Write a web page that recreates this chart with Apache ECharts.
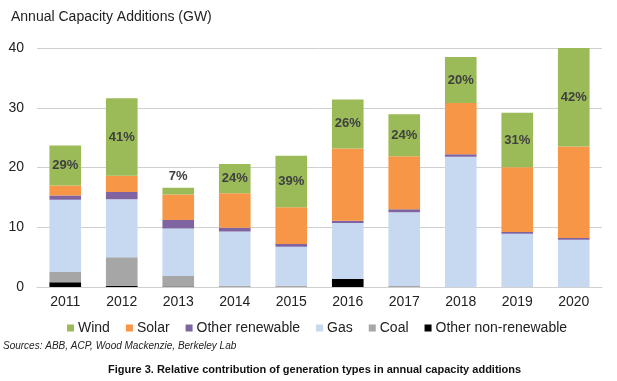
<!DOCTYPE html>
<html><head><meta charset="utf-8">
<script src="https://cdn.jsdelivr.net/npm/echarts@6/dist/echarts.min.js"></script>
<style>html,body{margin:0;padding:0;background:#fff}#c{width:617px;height:381px}</style>
</head><body><div id="c"></div>
<script>
const years = ['2011','2012','2013','2014','2015','2016','2017','2018','2019','2020'];
const otherNonRenewable = [0.8, 0.2, 0.1, 0, 0, 1.35, 0, 0, 0, 0];
const coal = [1.7, 4.8, 1.75, 0.2, 0.2, 0, 0.15, 0, 0, 0];
const gas = [12.1, 9.7, 7.95, 9.1, 6.55, 9.35, 12.35, 21.8, 8.9, 7.9];
const otherRenewable = [0.7, 1.2, 1.4, 0.6, 0.45, 0.4, 0.5, 0.4, 0.3, 0.3];
const solar = [1.7, 2.7, 4.3, 5.8, 6.15, 12.1, 8.9, 8.6, 10.85, 15.3];
const wind = [6.7, 13.0, 1.1, 4.9, 8.6, 8.2, 7.0, 7.7, 9.1, 16.8];
const windShare = ['29%','41%','7%','24%','39%','26%','24%','20%','31%','42%'];
const yTicks = [0, 10, 20, 30, 40];

const FONT = '"Liberation Sans", Arial, sans-serif';
const colors = {
  'Wind': '#9BBB59', 'Solar': '#F79646', 'Other renewable': '#8064A2',
  'Gas': '#C6D9F1', 'Coal': '#A6A6A6', 'Other non-renewable': '#000000'
};
function bar(name, data, extra) {
  return Object.assign({
    name, type: 'bar', stack: 'total', data, barWidth: '56%',
    itemStyle: { color: colors[name] }, emphasis: { disabled: true }
  }, extra || {});
}
const windData = wind.map((v, i) => i === 2 ? { value: v, label: { position: 'top' } } : v);

const chart = echarts.init(document.getElementById('c'), null, { renderer: 'canvas' });
chart.setOption({
  animation: false,
  textStyle: { fontFamily: FONT },
  title: [
    { text: 'Annual Capacity Additions (GW)', left: 11, top: 10, padding: 0,
      textStyle: { fontFamily: FONT, fontSize: 14, fontWeight: 'normal', color: '#222' } },
    { text: 'Sources: ABB, ACP, Wood Mackenzie, Berkeley Lab', left: 3, top: 341, padding: 0,
      textStyle: { fontFamily: FONT, fontSize: 10, fontStyle: 'italic', fontWeight: 'normal', color: '#222' } },
    { text: 'Figure 3. Relative contribution of generation types in annual capacity additions', left: 108, top: 364, padding: 0,
      textStyle: { fontFamily: FONT, fontSize: 11, fontWeight: 'bold', color: '#111' } }
  ],
  legend: {
    data: ['Wind', 'Solar', 'Other renewable', 'Gas', 'Coal', 'Other non-renewable'],
    left: 62, top: 316, itemWidth: 7, itemHeight: 7, itemGap: 16,
    icon: 'rect',
    textStyle: { fontFamily: FONT, fontSize: 14, color: '#222', padding: [0, 0, 0, -1] }
  },
  grid: { left: 37, right: 15, top: 48, bottom: 94 },
  xAxis: {
    type: 'category', data: years,
    axisLine: { lineStyle: { color: '#d0d0d0', width: 1 } },
    axisTick: { show: false },
    axisLabel: { fontFamily: FONT, fontSize: 14, color: '#222', margin: 8 }
  },
  yAxis: {
    type: 'value', min: yTicks[0], max: yTicks[yTicks.length - 1], interval: 10,
    axisLine: { show: false }, axisTick: { show: false },
    splitLine: { lineStyle: { color: '#d0d0d0', width: 1 } },
    axisLabel: { fontFamily: FONT, fontSize: 14, color: '#222', margin: 13 }
  },
  series: [
    bar('Other non-renewable', otherNonRenewable),
    bar('Coal', coal),
    bar('Gas', gas),
    bar('Other renewable', otherRenewable),
    bar('Solar', solar),
    bar('Wind', windData, {
      label: {
        show: true, position: 'inside', fontFamily: FONT, fontSize: 13, fontWeight: 'bold', color: '#404040',
        formatter: p => windShare[p.dataIndex]
      }
    })
  ]
});
</script></body></html>
